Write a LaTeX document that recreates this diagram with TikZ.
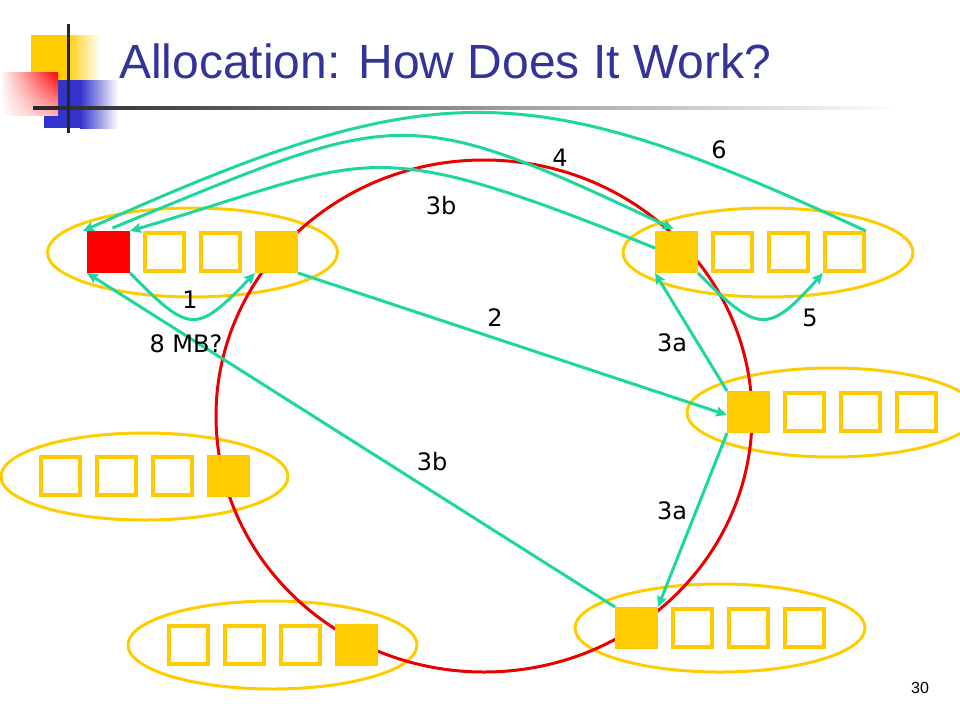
\documentclass[tikz,border=0pt]{standalone}
\usepackage{fontspec}
\setmainfont{DejaVu Sans}
\newfontfamily\titlefont{Liberation Sans}
\usetikzlibrary{arrows.meta,shadings}
\definecolor{myyellow}{RGB}{255,204,0}
\definecolor{ringred}{RGB}{235,0,0}
\definecolor{boxred}{RGB}{255,0,0}
\definecolor{teal2}{RGB}{30,214,160}
\definecolor{titleblue}{RGB}{51,51,153}
\definecolor{logoblue}{RGB}{51,51,204}
\tikzset{
  grpell/.style={draw=myyellow, line width=3pt},
  slot/.style={draw=myyellow, line width=4pt, minimum width=39pt, minimum height=38pt, inner sep=0pt, outer sep=2pt},
  full/.style={fill=myyellow, minimum width=43pt, minimum height=42pt, inner sep=0pt, outer sep=0pt},
  redfull/.style={full, fill=boxred},
  link/.style={draw=teal2, line width=3pt, -{Stealth[length=11pt,width=10pt,inset=2pt]}},
  lbl/.style={font=\fontsize{24}{28}\selectfont, inner sep=0pt}
}
\begin{document}
\begin{tikzpicture}[x=1pt,y=-1pt]
\useasboundingbox (0,0) rectangle (960,720);
\clip (0,0) rectangle (960,720);
% logo
\fill[myyellow] (31,35) rectangle (66,80);
\shade[left color=myyellow, right color=white] (66,35) rectangle (100,80);
\fill[logoblue] (44,80) rectangle (80,128);
\shade[left color=logoblue, right color=white] (80,80) rectangle (118,128);
\shade[upper left=white, upper right=boxred, lower left=white, lower right=boxred!30] (0,72) rectangle (58,115);
\shade[left color=black!85, right color=white] (33,106.5) rectangle (900,109.5);
\draw[line width=3pt, black!85] (68,24) -- (68,133);
% title
\node[anchor=base west, inner sep=0pt, text=titleblue, font=\titlefont\fontsize{48}{53}\selectfont] (title) at (119,78) {Allocation: How Does It Work?};
% group ellipses
\draw[grpell] (192.5,252.5) ellipse [x radius=145, y radius=44.5];
\draw[grpell] (768,252.5) ellipse [x radius=145, y radius=44.5];
\draw[grpell] (832,412.5) ellipse [x radius=145, y radius=44.5];
\draw[grpell] (720,628) ellipse [x radius=145, y radius=44];
\draw[grpell] (144.5,476.5) ellipse [x radius=143.5, y radius=43.5];
\draw[grpell] (272.5,645) ellipse [x radius=144.5, y radius=44];
% ring
\draw[ringred, line width=3pt] (484,416) ellipse [x radius=268, y radius=256];
% group A
\node[redfull] (a1) at (108.5,252) {};
\node[slot] (a2) at (164.5,252) {};
\node[slot] (a3) at (220,252) {};
\node[full] (a4) at (276.5,252) {};
% group B
\node[full] (b1) at (676.5,252) {};
\node[slot] (b2) at (732.5,252) {};
\node[slot] (b3) at (788.5,252) {};
\node[slot] (b4) at (844.5,252) {};
% group C
\node[full] (c1) at (748.5,412) {};
\node[slot] (c2) at (804.5,412) {};
\node[slot] (c3) at (860.5,412) {};
\node[slot] (c4) at (916.5,412) {};
% group D
\node[full] (d1) at (636.5,628) {};
\node[slot] (d2) at (692.5,628) {};
\node[slot] (d3) at (748.5,628) {};
\node[slot] (d4) at (804.5,628) {};
% group E
\node[slot] (e1) at (60.5,476) {};
\node[slot] (e2) at (116,476) {};
\node[slot] (e3) at (172,476) {};
\node[full] (e4) at (228.5,476) {};
% group F
\node[slot] (f1) at (188,644.5) {};
\node[slot] (f2) at (244,644.5) {};
\node[slot] (f3) at (300,644.5) {};
\node[full] (f4) at (356.5,644.5) {};
% arrows
\draw[link] (a1.south east) .. controls (190,334) and (196,334) .. (a4.south west);
\draw[link] (a4.south east) -- ([yshift=-3pt]c1.west);
\draw[link] (c1.north west) -- (b1.south west);
\draw[link] (c1.south west) -- (d1.north east);
\draw[link] (d1.north west) -- (a1.south west);
\draw[link] ([yshift=4pt]b1.west) .. controls (361,130) and (377,158) .. (a1.north east);
\draw[link] ([xshift=4pt,yshift=3pt]a1.north) .. controls (400,110) and (400,100) .. ([xshift=-3pt,yshift=2pt]b1.north);
\draw[link] (b1.south east) .. controls (759,335) and (769,333) .. (b4.south west);
\draw[link] (b4.north east) .. controls (528,75) and (437,72) .. ([xshift=-4pt]a1.north west);
% labels
\node[lbl] (l1) at (190,300) {1};
\node[lbl] (l8) at (186,344) {8 MB?};
\node[lbl] (l2) at (495,318) {2};
\node[lbl] (l5) at (810,318) {5};
\node[lbl] (l3a1) at (672,343) {3a};
\node[lbl] (l3a2) at (672,511) {3a};
\node[lbl] (l3b1) at (441,206) {3b};
\node[lbl] (l3b2) at (432,462) {3b};
\node[lbl] (l4) at (560,158) {4};
\node[lbl] (l6) at (719,150) {6};
\node[inner sep=0pt, font=\titlefont\fontsize{16}{19}\selectfont] (pg) at (920,688) {30};
\end{tikzpicture}
\end{document}
